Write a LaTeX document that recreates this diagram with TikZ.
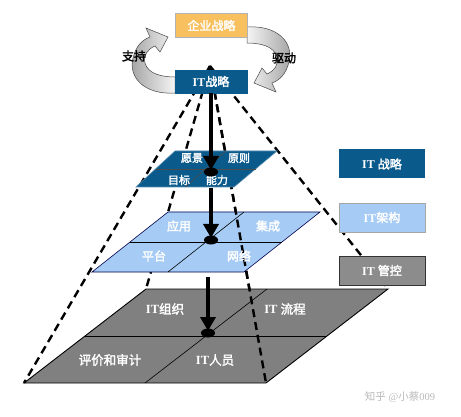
\documentclass[tikz,border=0pt]{standalone}
\usepackage{fontspec}
\setmainfont{Liberation Serif}
\newfontfamily\cjk{Noto Sans CJK SC}[AutoFakeBold=2.2]
\usetikzlibrary{arrows.meta,calc}
\definecolor{orangebox}{HTML}{F9C060}
\definecolor{darkblue}{HTML}{0B5A8C}
\definecolor{lightblue}{HTML}{A6CCF5}
\definecolor{planegray}{HTML}{808080}
\definecolor{legendgray}{HTML}{8C8C8C}
\newcommand{\zh}[1]{{\cjk #1}}
\begin{document}
\begin{tikzpicture}[x=1pt,y=-1pt,
  topbox/.style={draw=gray!60, line width=0.6pt, minimum width=72pt, minimum height=24pt, inner sep=0pt, text=white, font=\bfseries\fontsize{12}{14}\selectfont},
  legendbox/.style={minimum width=86pt, minimum height=29pt, inner sep=0pt, text=white, font=\bfseries\fontsize{12}{14}\selectfont},
  plabel/.style={text=white, inner sep=0pt, font=\bfseries\fontsize{#1}{14}\selectfont},
  sidelabel/.style={text=black, inner sep=0pt, font=\bfseries\fontsize{12}{14}\selectfont},
  pyr/.style={line width=2.4pt, dash pattern=on 8pt off 5pt},
  divider/.style={line width=0.6pt},
  bigarrow/.style={line width=4.5pt, -{Triangle[length=14pt,width=15pt]}, shorten >=2pt},
  dot/.style={fill=black},
  curvarrow/.style={draw=gray!55!black, line width=0.5pt}
]
\useasboundingbox (0,0) rectangle (461,417);

% apex and plane corners
\coordinate (apex) at (210,66);
% bottom plane
\coordinate (bBL) at (146,289);
\coordinate (bBR) at (388,289);
\coordinate (bFR) at (266,383);
\coordinate (bFL) at (24,383);
% middle plane
\coordinate (mBL) at (168,212);
\coordinate (mBR) at (320,212);
\coordinate (mFR) at (244,272);
\coordinate (mFL) at (92,272);
% top plane
\coordinate (tBL) at (175,151);
\coordinate (tBR) at (277,151);
\coordinate (tFR) at (234,187);
\coordinate (tFL) at (136,187);

% curved arrows
\path[curvarrow, left color=gray!75, right color=gray!8]
  (175,93) .. controls (145,95) and (128,78) .. (133,58)
  .. controls (136,46) and (142,40) .. (150,37)
  -- (146,28) -- (168,37) -- (160,52) -- (155,46)
  .. controls (148,49) and (143,55) .. (145,63)
  .. controls (148,74) and (162,77) .. (175,77) -- cycle;
\path[curvarrow, left color=gray!8, right color=gray!75]
  (247,27) .. controls (277,25) and (294,42) .. (289,62)
  .. controls (286,74) and (280,80) .. (272,83)
  -- (276,92) -- (254,83) -- (262,68) -- (267,74)
  .. controls (274,71) and (279,65) .. (277,57)
  .. controls (274,46) and (260,43) .. (247,43) -- cycle;
\node[sidelabel] (zc) at (134,56) {\zh{支持}};
\node[sidelabel] (qd) at (284,58) {\zh{驱动}};

% pyramid edges (all)
\draw[pyr] (apex) -- (bBL);
\draw[pyr] (apex) -- (bBR);
\draw[pyr] (apex) -- (bFL);
\draw[pyr] (apex) -- (bFR);

% bottom plane
\draw[fill=planegray, line width=0.9pt] (bBL) -- (bBR) -- (bFR) -- (bFL) -- cycle;
\draw[divider] ($(bBL)!0.5!(bFL)$) -- ($(bBR)!0.5!(bFR)$);
\draw[divider] ($(bBL)!0.5!(bBR)$) -- ($(bFL)!0.5!(bFR)$);

% middle plane
\draw[fill=lightblue, draw=blue!30!black, line width=0.6pt] (mBL) -- (mBR) -- (mFR) -- (mFL) -- cycle;
\draw[divider] ($(mBL)!0.5!(mFL)$) -- ($(mBR)!0.5!(mFR)$);
\draw[divider] ($(mBL)!0.5!(mBR)$) -- ($(mFL)!0.5!(mFR)$);

% front edge over the lower planes
\draw[pyr] (apex) -- (bFR);

% top plane
\draw[fill=darkblue, draw=darkblue!70!white, line width=0.6pt] (tBL) -- (tBR) -- (tFR) -- (tFL) -- cycle;
\draw[divider, draw=black!70] ($(tBL)!0.5!(tFL)$) -- ($(tBR)!0.5!(tFR)$);
\draw[divider, draw=black!70] ($(tBL)!0.5!(tBR)$) -- ($(tFL)!0.5!(tFR)$);

% top boxes
\node[topbox, fill=orangebox] (corp) at (211.5,25.5) {\zh{企业战略}};
\node[topbox, fill=darkblue, draw=darkblue, minimum height=23pt] (its) at (211,81.5) {IT\zh{战略}};

% legend
\node[legendbox, fill=darkblue] (lg1) at (382,164) {IT \zh{战略}};
\node[legendbox, fill=lightblue, draw=gray!70, line width=0.6pt] (lg2) at (382,217.5) {IT\zh{架构}};
\node[legendbox, fill=legendgray, draw=black!80, line width=0.6pt] (lg3) at (382,270.5) {IT \zh{管控}};

% plane labels
\node[plabel=11] (t1) at (192,158) {\zh{愿景}};
\node[plabel=11] (t2) at (239,158) {\zh{原则}};
\node[plabel=11] (t3) at (179,180) {\zh{目标}};
\node[plabel=11] (t4) at (217,180) {\zh{能力}};
\node[plabel=12] (m1) at (179,226) {\zh{应用}};
\node[plabel=12] (m2) at (268,226) {\zh{集成}};
\node[plabel=12] (m3) at (154,256) {\zh{平台}};
\node[plabel=12] (m4) at (239,256) {\zh{网络}};
\node[plabel=12.5] (b1) at (165,309) {IT\zh{组织}};
\node[plabel=12.5] (b2) at (285,309) {IT \zh{流程}};
\node[plabel=12.5] (b3) at (110,360) {\zh{评价和审计}};
\node[plabel=12.5] (b4) at (215,360) {IT\zh{人员}};

% flow arrows and dots
\coordinate (d1) at (211,172);
\coordinate (a2) at (211,188);
\coordinate (d2) at (211,240);
\coordinate (a3) at (208,277);
\coordinate (d3) at (208,333);
\draw[bigarrow] (its.south) -- (d1);
\draw[bigarrow] (a2) -- (d2);
\draw[bigarrow] (a3) -- (d3);
\fill[dot] (d1) ellipse [x radius=7pt, y radius=4.5pt];
\fill[dot] (d2) ellipse [x radius=7pt, y radius=4.5pt];
\fill[dot] (d3) ellipse [x radius=7pt, y radius=4.5pt];

% watermark
\node[text=gray!55, inner sep=0pt, font=\fontsize{10.5}{12}\selectfont] (wm) at (400,397) {\zh{知乎} @\zh{小蔡}009};
\end{tikzpicture}
\end{document}
